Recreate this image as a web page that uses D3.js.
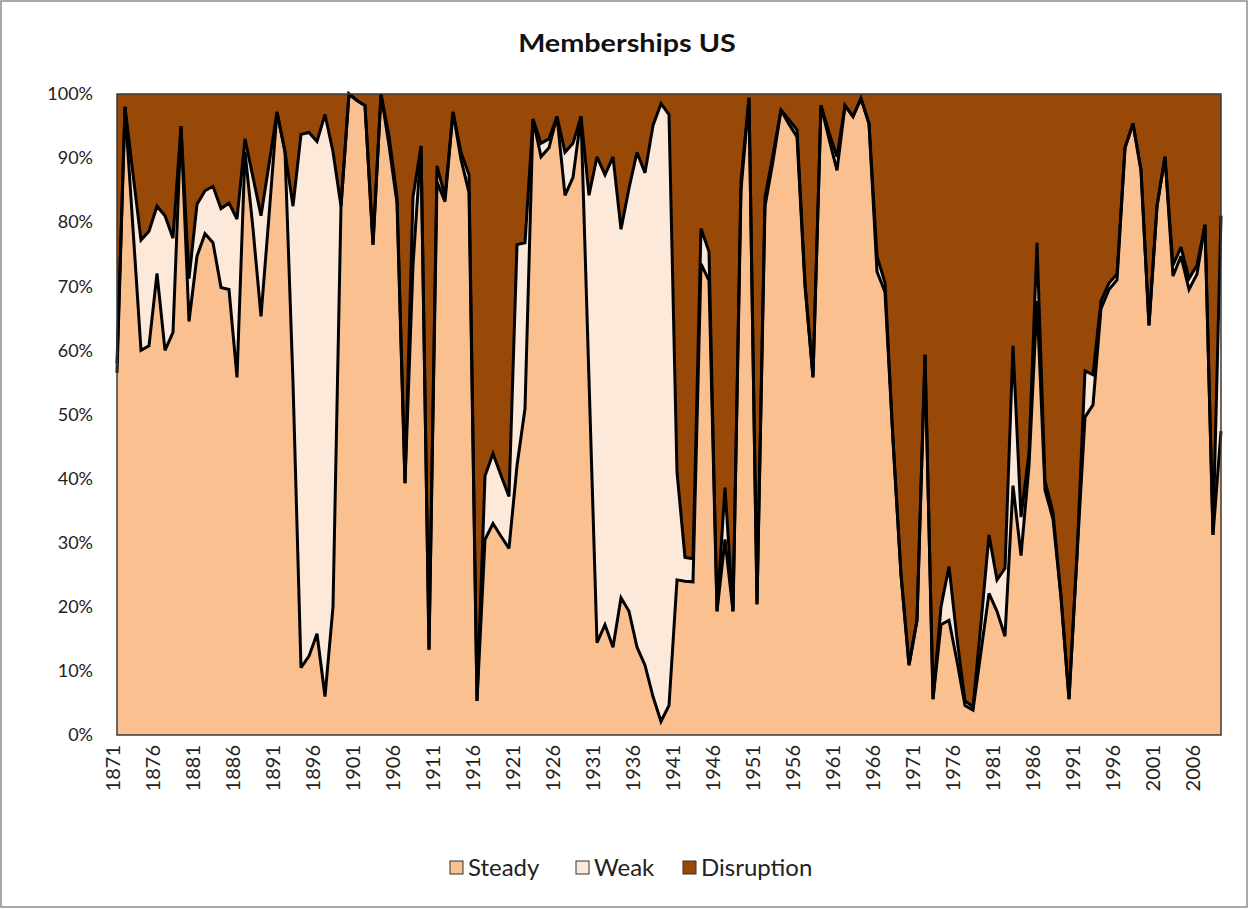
<!DOCTYPE html>
<html><head><meta charset="utf-8">
<script src="https://cdn.jsdelivr.net/npm/d3@7/dist/d3.min.js"></script>
<style>body{margin:0;background:#fff;} svg{display:block;}</style>
</head><body>
<svg id="chart" width="1249" height="909"></svg>
<script>
const years = d3.range(1871, 2010);
const steady = [56.5,98,79,60,60.7,72,60,62.8,95,64.5,74.7,78.2,76.8,69.8,69.5,55.8,91,79,65.3,81,
97.2,91,55,10.5,12.3,15.8,6,20,82.5,100,99,98.2,76.5,100,92,83,39.3,73.3,91.9,13.3,
86.3,83.2,97.2,89.8,84.6,5.3,30.5,33,31,29.1,42,50.9,96.1,90.2,91.6,96.5,84.2,87,96.5,55.4,
14.4,17.2,13.7,21.4,19.3,13.7,10.9,6,2.1,4.6,24.2,24,23.9,73.5,70.9,19.3,30.5,19.3,85,99.4,
20.4,82.5,89.5,97.5,95.3,93.3,70,55.8,98.2,93,88.1,98.2,96.5,99.3,95.4,72.3,69.1,46,25,10.9,
17.9,59.3,5.6,17.2,17.9,11.5,4.6,3.9,13,22.1,19.3,15.4,38.9,28,42,67.7,38.2,33.7,21.5,5.6,
28,49.6,51.5,66.5,69.5,71,91.6,95.4,88.1,63.9,82.5,90.2,71.6,74.7,69.5,71.9,79.6,31.2,47.4];
const weak = [1.5,0,8.5,17.2,17.9,10.5,21,14.7,0,6.7,8.1,6.7,8.8,12.3,13.5,24.7,2,8,15.7,8,
0,0,27.5,83.2,81.7,76.8,90.8,71,0,0,0,0,0,0,1.5,1,0,10.6,0,0,
2.5,0.8,0,1.1,2.8,0,9.9,10.9,9.5,8.1,34.5,25.9,0,2.1,1.4,0,6.7,5.3,0,28.8,
75.8,70.2,76.5,57.5,66,77.2,76.8,89.1,96.4,92.2,16.8,3.7,3.6,5.5,4.5,0,8.1,0,1.5,0,
0,1.4,1,0,0.7,1.1,0.5,0,0,1,2.1,0,0,0,0,2.4,1.4,0,0,0,
0,0,0,2.8,8.4,3.5,0.7,0.5,4.5,9.1,4.9,10.6,21.8,6,2,9.1,1.4,1,0,0,
0,7.2,4.7,1.2,1,0.9,0,0,0,0,0,0,1.7,1.4,1.7,1.4,0,0,33.6];
const disruption = [42,2,12.5,22.8,21.4,17.5,19,22.5,5,28.8,17.2,15.1,14.4,17.9,17,19.5,7,13,19,11,
2.8,9,17.5,6.3,6,7.4,3.2,9,17.5,0,1,1.8,23.5,0,6.5,16,60.7,16.1,8.1,86.7,
11.2,16,2.8,9.1,12.6,94.7,59.6,56.1,59.5,62.8,23.5,23.2,3.9,7.7,7,3.5,9.1,7.7,3.5,15.8,
9.8,12.6,9.8,21.1,14.7,9.1,12.3,4.9,1.5,3.2,59,72.3,72.5,21,24.6,80.7,61.4,80.7,13.5,0.6,
79.6,16.1,9.5,2.5,4,5.6,29.5,44.2,1.8,6,9.8,1.8,3.5,0.7,4.6,25.3,29.5,54,75,89.1,
82.1,40.7,94.4,80,73.7,85,94.7,95.6,82.5,68.8,75.8,74,39.3,66,56,23.2,60.4,65.3,78.5,94.4,
72,43.2,43.8,32.3,29.5,28.1,8.4,4.6,11.9,36.1,17.5,9.8,26.7,23.9,28.8,26.7,20.4,68.8,19];
const seriesNames = ["Steady","Weak","Disruption"];
const seriesColors = ["#FAC090","#FDE9D9","#984807"];
const yTicks = [0,0.1,0.2,0.3,0.4,0.5,0.6,0.7,0.8,0.9,1];
const xTickYears = years.filter(y => (y - 1871) % 5 === 0);

const rows = years.map((y,i) => ({year:y, Steady:steady[i], Weak:weak[i], Disruption:disruption[i]}));
const svg = d3.select("#chart");
const font = "Lato, 'Open Sans', sans-serif";
const L = 117, R = 1221, T = 94, B = 735;

svg.append("rect").attr("x",1).attr("y",1).attr("width",1246).attr("height",906)
  .attr("fill","#fff").attr("stroke","#8c8c8c").attr("stroke-width",1.5);

const x = d3.scalePoint().domain(years).range([L,R]).padding(0);
const y = d3.scaleLinear().domain([0,1]).range([B,T]);
const stack = d3.stack().keys(seriesNames).offset(d3.stackOffsetExpand);
const layers = stack(rows);

const area = d3.area().x(d => x(d.data.year)).y0(d => y(d[0])).y1(d => y(d[1]));
const topLine = d3.line().x(d => x(d.data.year)).y(d => y(d[1]));

const g = svg.append("g");
g.selectAll("path.area").data(layers).join("path").attr("class","area")
  .attr("d", area).attr("fill",(d,i)=>seriesColors[i]).attr("stroke","none");
g.selectAll("path.edge").data(layers.slice(0,2)).join("path").attr("class","edge")
  .attr("d", topLine).attr("fill","none").attr("stroke","#000").attr("stroke-width",3)
  .attr("stroke-linejoin","miter").attr("stroke-miterlimit",3);
svg.append("rect").attr("x",L).attr("y",T).attr("width",R-L).attr("height",B-T)
  .attr("fill","none").attr("stroke","#3a3a3a").attr("stroke-width",1.5);

// y axis
const yAxis = svg.append("g").attr("transform",`translate(${L},0)`)
  .call(d3.axisLeft(y).tickValues(yTicks).tickFormat(d3.format(".0%")).tickSize(0).tickPadding(24));
yAxis.select(".domain").remove();
yAxis.selectAll("text").attr("font-family",font).attr("font-size",18).attr("fill","#222");

// x axis
const xAxis = svg.append("g").attr("transform",`translate(0,${B})`)
  .call(d3.axisBottom(x).tickValues(xTickYears).tickSize(0));
xAxis.select(".domain").remove();
xAxis.selectAll("text").attr("font-family",font).attr("font-size",20).attr("fill","#222")
  .attr("transform","rotate(-90)").attr("text-anchor","end").attr("dx","-10").attr("dy","0.1em").attr("y",0);

// title
svg.append("text").attr("transform","translate(627,52) scale(1.15,1)").attr("text-anchor","middle")
  .attr("font-family",font).attr("font-weight","bold").attr("font-size",25).attr("fill","#111")
  .text("Memberships US");

// legend
const legX = [450, 576, 683];
const leg = svg.append("g");
seriesNames.forEach((n,i) => {
  leg.append("rect").attr("x",legX[i]).attr("y",861).attr("width",13).attr("height",13)
    .attr("fill",seriesColors[i]).attr("stroke","#333").attr("stroke-width",1);
  leg.append("text").attr("x",legX[i]+18).attr("y",876).attr("font-family",font)
    .attr("font-size",24).attr("fill","#222").text(n);
});
</script>
</body></html>
